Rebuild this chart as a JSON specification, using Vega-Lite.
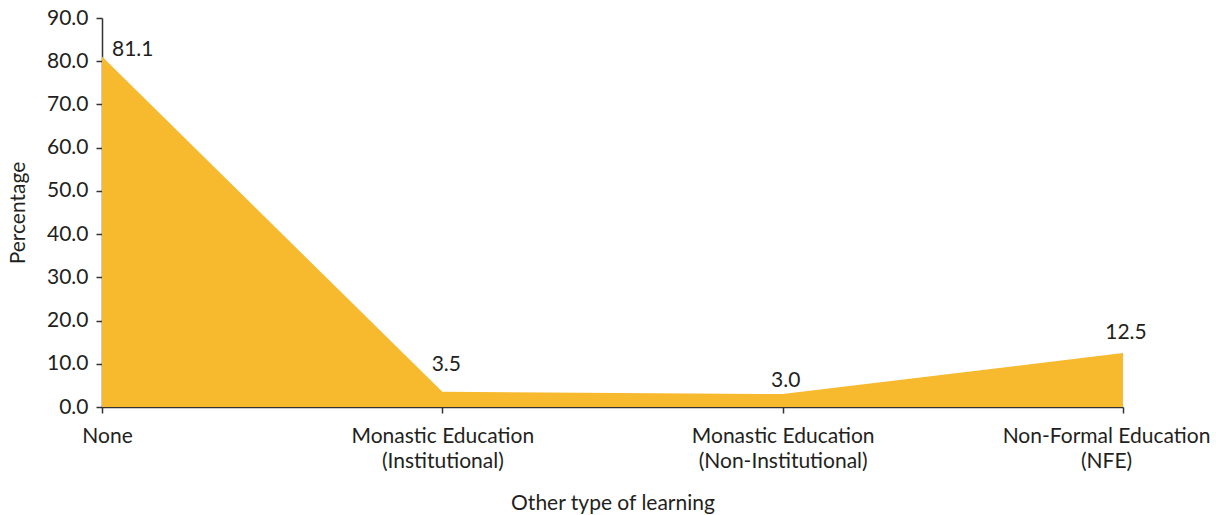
{
  "$schema": "https://vega.github.io/schema/vega-lite/v6.json",
  "autosize": "none",
  "width": 1021,
  "height": 389,
  "padding": {"left": 102, "top": 18, "right": 93, "bottom": 108},
  "background": "white",
  "config": {
    "view": {"stroke": null},
    "font": "Lato",
    "axis": {
      "labelFont": "Lato", "titleFont": "Lato",
      "labelFontSize": 21, "titleFontSize": 21,
      "labelColor": "#231F20", "titleColor": "#231F20",
      "titleFontWeight": "normal",
      "domainColor": "#333333", "tickColor": "#333333",
      "domainWidth": 1.5, "tickWidth": 1.5, "tickSize": 6,
      "grid": false,
      "labelLimit": 0,
      "labelOverlap": false
    }
  },
  "data": {
    "values": [
      {"category": "None", "pct": 81.1},
      {"category": "Monastic Education|(Institutional)", "pct": 3.5},
      {"category": "Monastic Education|(Non-Institutional)", "pct": 3.0},
      {"category": "Non-Formal Education|(NFE)", "pct": 12.5}
    ]
  },
  "encoding": {
    "x": {
      "field": "category", "type": "ordinal", "sort": null,
      "scale": {"type": "point", "padding": 0},
      "axis": {
        "title": "Other type of learning",
        "labelAngle": 0,
        "labelExpr": "split(datum.label, '|')",
        "labelPadding": 12,
        "labelLineHeight": 25,
        "labelBaseline": "top",
        "labelBound": false,
        "labelFlush": false,
        "titlePadding": 21,
        "labelOffset": {
          "condition": [
            {"test": "datum.value == 'None'", "value": 5},
            {"test": "datum.value == 'Non-Formal Education|(NFE)'", "value": -17}
          ],
          "value": 0
        }
      }
    },
    "y": {
      "field": "pct", "type": "quantitative",
      "scale": {"domain": [0, 90]},
      "axis": {
        "title": "Percentage",
        "values": [0, 10, 20, 30, 40, 50, 60, 70, 80, 90],
        "format": ".1f",
        "labelPadding": 8,
        "titlePadding": 18
      }
    }
  },
  "layer": [
    {"mark": {"type": "area", "color": "#F7B92D", "opacity": 1}},
    {
      "transform": [{"filter": "datum.pct == 81.1"}],
      "mark": {"type": "text", "font": "Lato", "fontSize": 21, "color": "#231F20", "align": "left", "baseline": "bottom", "dx": 10, "dy": 4},
      "encoding": {"text": {"field": "pct", "type": "quantitative", "format": ".1f"}}
    },
    {
      "transform": [{"filter": "datum.pct == 3.5"}],
      "mark": {"type": "text", "font": "Lato", "fontSize": 21, "color": "#231F20", "align": "center", "baseline": "bottom", "dx": 4, "dy": -17},
      "encoding": {"text": {"field": "pct", "type": "quantitative", "format": ".1f"}}
    },
    {
      "transform": [{"filter": "datum.pct == 3.0"}],
      "mark": {"type": "text", "font": "Lato", "fontSize": 21, "color": "#231F20", "align": "center", "baseline": "bottom", "dx": 3, "dy": -3},
      "encoding": {"text": {"field": "pct", "type": "quantitative", "format": ".1f"}}
    },
    {
      "transform": [{"filter": "datum.pct == 12.5"}],
      "mark": {"type": "text", "font": "Lato", "fontSize": 21, "color": "#231F20", "align": "center", "baseline": "bottom", "dx": 3, "dy": -10},
      "encoding": {"text": {"field": "pct", "type": "quantitative", "format": ".1f"}}
    }
  ]
}
